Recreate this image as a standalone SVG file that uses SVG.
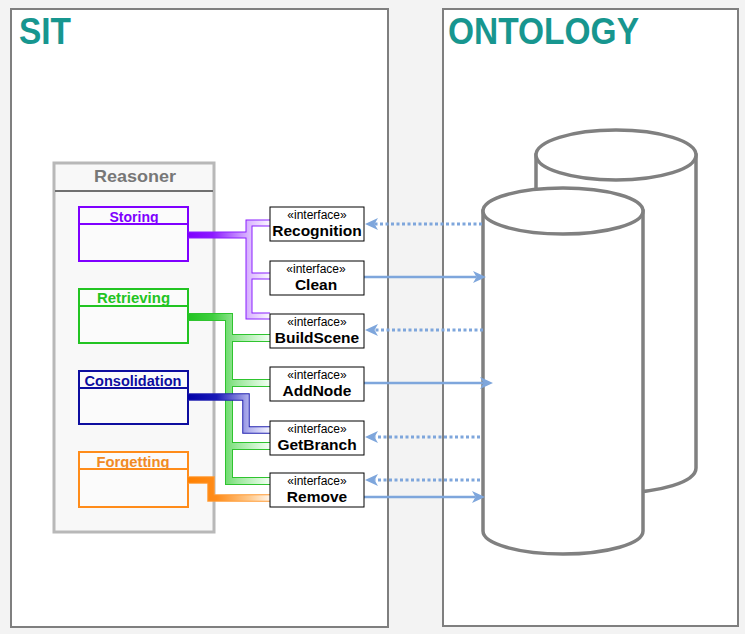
<svg xmlns="http://www.w3.org/2000/svg" width="745" height="634" viewBox="0 0 745 634">
<style>
.frame{fill:#fff;stroke:#7f7f7f;stroke-width:2}
.title{font-family:"Liberation Sans",Arial,sans-serif;font-weight:bold;font-size:36px;fill:#17968f}
.cyl{fill:#fff;stroke:#808080;stroke-width:3.5}
.ibox{fill:#fff;stroke:#000;stroke-width:1}
.stereo{font-family:"Liberation Sans",Arial,sans-serif;font-size:12px;text-anchor:middle;fill:#000}
.iname{font-family:"Liberation Sans",Arial,sans-serif;font-weight:bold;font-size:15.5px;text-anchor:middle;fill:#000}
.ftitle{font-family:"Liberation Sans",Arial,sans-serif;font-weight:bold;font-size:14px;text-anchor:middle}
.fbox{fill:#fbfbfb;stroke-width:2}
.arr{stroke:#7ea6dc;stroke-width:2.5;fill:none}
.dot{stroke-dasharray:3 2.5;stroke-width:3}
.tube{fill:none;stroke-linejoin:miter;stroke-linecap:butt}
</style>
<defs>
<marker id="ah" markerUnits="userSpaceOnUse" markerWidth="14" markerHeight="13" refX="3.5" refY="6.5" orient="auto">
<path d="M0,0.5 L13,6.5 L0,12.5 L3.5,6.5 Z" fill="#7ea6dc"/>
</marker>
<linearGradient id="gP" gradientUnits="userSpaceOnUse" x1="188" y1="0" x2="270" y2="0">
<stop offset="0" stop-color="#7f00ff"/><stop offset="0.3" stop-color="#8c1aff"/><stop offset="0.75" stop-color="#dcbaff"/><stop offset="1" stop-color="#fbf7ff"/>
</linearGradient>
<linearGradient id="gG" gradientUnits="userSpaceOnUse" x1="188" y1="0" x2="270" y2="0">
<stop offset="0" stop-color="#22c422"/><stop offset="0.3" stop-color="#3fcf3f"/><stop offset="0.6" stop-color="#9be79b"/><stop offset="1" stop-color="#f4fff4"/>
</linearGradient>
<linearGradient id="gB" gradientUnits="userSpaceOnUse" x1="188" y1="0" x2="270" y2="0">
<stop offset="0" stop-color="#0000a8"/><stop offset="0.35" stop-color="#1a1ab8"/><stop offset="0.75" stop-color="#b4b4ee"/><stop offset="1" stop-color="#f4f4ff"/>
</linearGradient>
<linearGradient id="gO" gradientUnits="userSpaceOnUse" x1="188" y1="0" x2="270" y2="0">
<stop offset="0" stop-color="#ff8000"/><stop offset="0.35" stop-color="#ff8c1a"/><stop offset="0.75" stop-color="#ffc98c"/><stop offset="1" stop-color="#fff6ec"/>
</linearGradient>
</defs>
<rect x="0" y="0" width="745" height="634" fill="#f3f3f3"/>

<g id="sit">
<rect class="frame" x="11" y="9" width="377" height="618"/>
<text class="title" x="19" y="44" textLength="52" lengthAdjust="spacingAndGlyphs">SIT</text>
</g>
<g id="ontology">
<rect class="frame" x="443" y="9" width="295" height="617"/>
<text class="title" x="448" y="44" textLength="191" lengthAdjust="spacingAndGlyphs">ONTOLOGY</text>
</g>

<g id="db-back">
<path class="cyl" d="M536,155 V468 A80,25 0 0 0 696,468 V155 Z"/>
<ellipse class="cyl" cx="616" cy="155" rx="80" ry="25"/>
</g>
<g id="db-front">
<path class="cyl" d="M483,211 V531 A80,23 0 0 0 643,531 V211 Z"/>
<ellipse class="cyl" cx="563" cy="211" rx="80" ry="23"/>
</g>

<g id="reasoner">
<rect x="54" y="163" width="160" height="369" fill="#f8f8f8" stroke="#b8b8b8" stroke-width="3"/>
<line x1="55" y1="191" x2="213" y2="191" stroke="#707070" stroke-width="2"/>
<text x="135" y="182" font-family="Liberation Sans, Arial, sans-serif" font-weight="bold" font-size="16.5" fill="#777" text-anchor="middle" textLength="82" lengthAdjust="spacingAndGlyphs">Reasoner</text>
</g>

<g id="storing">
<rect class="fbox" x="79" y="207" width="109" height="54" stroke="#7f00ff"/>
<line x1="79" y1="224" x2="188" y2="224" stroke="#7f00ff" stroke-width="2"/>
<text class="ftitle" x="134" y="222" fill="#7f00ff" textLength="49" lengthAdjust="spacingAndGlyphs">Storing</text>
</g>
<g id="retrieving">
<rect class="fbox" x="79" y="289" width="109" height="54" stroke="#22c422"/>
<line x1="79" y1="306" x2="188" y2="306" stroke="#22c422" stroke-width="2"/>
<text class="ftitle" x="133.5" y="303" fill="#22c422" textLength="73" lengthAdjust="spacingAndGlyphs">Retrieving</text>
</g>
<g id="consolidation">
<rect class="fbox" x="79" y="371" width="109" height="53" stroke="#0d0d9f"/>
<line x1="79" y1="388" x2="188" y2="388" stroke="#0d0d9f" stroke-width="2"/>
<text class="ftitle" x="133" y="386" fill="#0d0d9f" textLength="97" lengthAdjust="spacingAndGlyphs">Consolidation</text>
</g>
<g id="forgetting">
<rect class="fbox" x="79" y="452" width="109" height="55" stroke="#ff8c1a"/>
<line x1="79" y1="469" x2="188" y2="469" stroke="#ff8c1a" stroke-width="2"/>
<text class="ftitle" x="133" y="467" fill="#f08a24" textLength="73" lengthAdjust="spacingAndGlyphs">Forgetting</text>
</g>

<g id="connectors">
<g class="tube">
<path d="M188,317 H229 V481 H270 M229,338 H270 M229,383 H270 M229,446 H270" stroke="#2fc42f" stroke-width="8"/>
<path d="M188,317 H229 V481 H270 M229,338 H270 M229,383 H270 M229,446 H270" stroke="url(#gG)" stroke-width="6"/>
<path d="M188,397 H246 V430 H270" stroke="#2020b0" stroke-width="7.5"/>
<path d="M188,397 H246 V430 H270" stroke="url(#gB)" stroke-width="5.5"/>
<path d="M270,223 H249 V316 H270 M188,235 H249 M249,276 H270" stroke="#8a1fff" stroke-width="7"/>
<path d="M270,223 H249 V316 H270 M188,235 H249 M249,276 H270" stroke="url(#gP)" stroke-width="5"/>
<path d="M188,480 H211 V498 H270" stroke="#ff9a33" stroke-width="7.5"/>
<path d="M188,480 H211 V498 H270" stroke="url(#gO)" stroke-width="5.5"/>
</g>
<path class="arr dot" d="M482,224 H374.5" marker-end="url(#ah)"/>
<path class="arr" d="M364,277 H476.5" marker-end="url(#ah)"/>
<path class="arr dot" d="M483,330 H374.5" marker-end="url(#ah)"/>
<path class="arr" d="M364,383 H483.5" marker-end="url(#ah)"/>
<path class="arr dot" d="M480,437 H374.5" marker-end="url(#ah)"/>
<path class="arr dot" d="M480,480 H374.5" marker-end="url(#ah)"/>
<path class="arr" d="M364,497 H475.5" marker-end="url(#ah)"/>
</g>

<g id="recognition">
<rect class="ibox" x="270" y="207" width="94" height="34"/>
<text class="stereo" x="317" y="218.5">«interface»</text>
<text class="iname" x="317" y="236">Recognition</text>
</g>
<g id="clean">
<rect class="ibox" x="270" y="261" width="94" height="34"/>
<text class="stereo" x="316" y="272.5">«interface»</text>
<text class="iname" x="316" y="290">Clean</text>
</g>
<g id="buildscene">
<rect class="ibox" x="270" y="314" width="94" height="34"/>
<text class="stereo" x="317" y="325.5">«interface»</text>
<text class="iname" x="317" y="343">BuildScene</text>
</g>
<g id="addnode">
<rect class="ibox" x="270" y="367" width="94" height="34"/>
<text class="stereo" x="317" y="378.5">«interface»</text>
<text class="iname" x="317" y="396">AddNode</text>
</g>
<g id="getbranch">
<rect class="ibox" x="270" y="421" width="94" height="34"/>
<text class="stereo" x="317" y="432.5">«interface»</text>
<text class="iname" x="317" y="450">GetBranch</text>
</g>
<g id="remove">
<rect class="ibox" x="270" y="473" width="94" height="34"/>
<text class="stereo" x="317" y="484.5">«interface»</text>
<text class="iname" x="317" y="502">Remove</text>
</g>
</svg>
